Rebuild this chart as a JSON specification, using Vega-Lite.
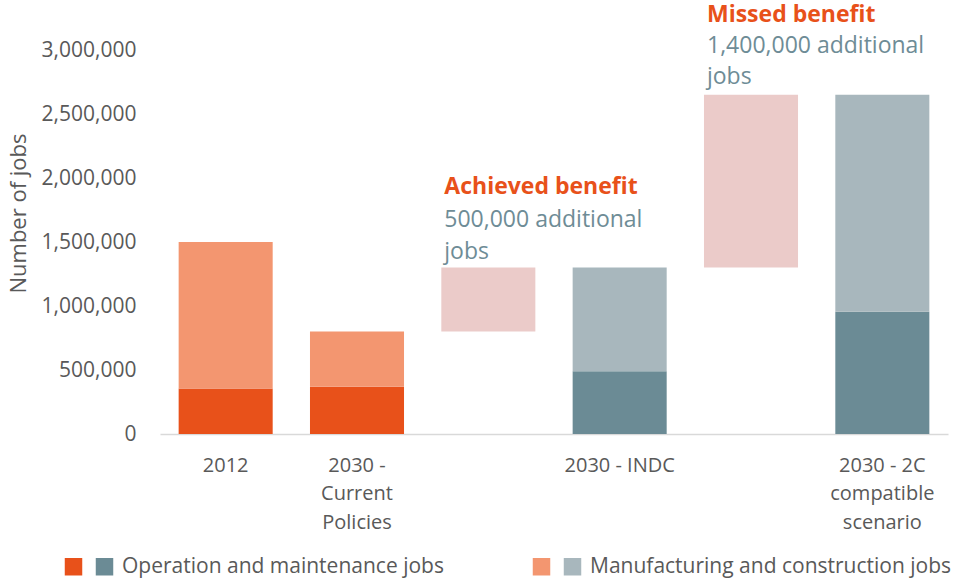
{
  "$schema": "https://vega.github.io/schema/vega-lite/v6.json",
  "width": 788,
  "height": 384,
  "autosize": {"type": "none"},
  "padding": {"left": 160, "top": 50, "right": 7, "bottom": 146},
  "config": {"font": "Open Sans", "view": {"stroke": null}},
  "datasets": {
    "bars": [
      {"cat": "2012", "type": "om", "key": "om_o", "lo": 0, "hi": 355000},
      {"cat": "2012", "type": "mc", "key": "mc_o", "lo": 355000, "hi": 1500000},
      {"cat": "2030 -|Current|Policies", "type": "om", "key": "om_o", "lo": 0, "hi": 370000},
      {"cat": "2030 -|Current|Policies", "type": "mc", "key": "mc_o", "lo": 370000, "hi": 800000},
      {"cat": " ", "type": "benefit", "key": "ach", "lo": 800000, "hi": 1300000},
      {"cat": "2030 - INDC", "type": "om", "key": "om_t", "lo": 0, "hi": 490000},
      {"cat": "2030 - INDC", "type": "mc", "key": "mc_t", "lo": 490000, "hi": 1300000},
      {"cat": "  ", "type": "benefit", "key": "miss", "lo": 1300000, "hi": 2650000},
      {"cat": "2030 - 2C|compatible|scenario", "type": "om", "key": "om_t", "lo": 0, "hi": 955000},
      {"cat": "2030 - 2C|compatible|scenario", "type": "mc", "key": "mc_t", "lo": 955000, "hi": 2650000}
    ],
    "notes": [
      {"cat": " ", "kind": "head", "y": 1875000, "txt": "Achieved benefit"},
      {"cat": " ", "kind": "body", "y": 1617000, "txt": "500,000 additional"},
      {"cat": " ", "kind": "body", "y": 1367000, "txt": "jobs"},
      {"cat": "  ", "kind": "head", "y": 3222000, "txt": "Missed benefit"},
      {"cat": "  ", "kind": "body", "y": 2975000, "txt": "1,400,000 additional"},
      {"cat": "  ", "kind": "body", "y": 2732000, "txt": "jobs"}
    ]
  },
  "layer": [
    {
      "data": {"name": "bars"},
      "transform": [{"filter": "datum.type == 'om'"}],
      "mark": {"type": "bar"},
      "encoding": {
        "x": {
          "field": "cat",
          "type": "nominal",
          "scale": {
            "domain": ["2012", "2030 -|Current|Policies", " ", "2030 - INDC", "  ", "2030 - 2C|compatible|scenario"],
            "paddingInner": 0.284,
            "paddingOuter": 0.142
          },
          "axis": {
            "title": null,
            "labelAngle": 0,
            "labelExpr": "split(datum.value, '|')",
            "labelFontSize": 20,
            "labelColor": "#595959",
            "labelPadding": 21,
            "labelLineHeight": 28.5,
            "labelBaseline": "top",
            "ticks": false,
            "tickSize": 0,
            "domainColor": "#D9D9D9",
            "domainWidth": 1.5,
            "grid": false
          }
        },
        "y": {
          "field": "lo",
          "type": "quantitative",
          "scale": {"domain": [0, 3000000], "nice": false},
          "axis": {
            "title": "Number of jobs",
            "titleFontSize": 22,
            "titleFontWeight": "normal",
            "titleColor": "#595959",
            "titlePadding": 11,
            "titleY": 163,
            "values": [0, 500000, 1000000, 1500000, 2000000, 2500000, 3000000],
            "format": ",d",
            "labelFontSize": 21,
            "labelColor": "#595959",
            "labelPadding": 24,
            "ticks": false,
            "tickSize": 0,
            "domain": false,
            "grid": false
          }
        },
        "y2": {"field": "hi"},
        "fill": {
          "field": "key",
          "type": "nominal",
          "scale": {"domain": ["om_o", "om_t"], "range": ["#E8511A", "#6B8B95"]},
          "legend": {
            "orient": "none",
            "legendX": -97,
            "legendY": 506,
            "direction": "horizontal",
            "columns": 2,
            "title": null,
            "symbolType": "square",
            "symbolSize": 306,
            "symbolStrokeWidth": 0,
            "symbolOpacity": 1,
            "labelFontSize": 21,
            "labelColor": "#595959",
            "labelOffset": 7,
            "columnPadding": 3,
            "labelLimit": 1000,
            "labelExpr": "datum.value == 'om_t' ? 'Operation and maintenance jobs' : ''"
          }
        }
      }
    },
    {
      "data": {"name": "bars"},
      "transform": [{"filter": "datum.type != 'om'"}],
      "mark": {"type": "bar"},
      "encoding": {
        "x": {"field": "cat", "type": "nominal"},
        "y": {"field": "lo", "type": "quantitative"},
        "y2": {"field": "hi"},
        "color": {
          "field": "key",
          "type": "nominal",
          "scale": {
            "domain": ["mc_o", "mc_t", "ach", "miss"],
            "range": ["#F39670", "#A8B7BD", "#EBCBC9", "#EBCBC9"]
          },
          "legend": {
            "orient": "none",
            "legendX": 371,
            "legendY": 506,
            "direction": "horizontal",
            "columns": 2,
            "title": null,
            "values": ["mc_o", "mc_t"],
            "symbolType": "square",
            "symbolSize": 306,
            "symbolStrokeWidth": 0,
            "symbolOpacity": 1,
            "labelFontSize": 21,
            "labelColor": "#595959",
            "labelOffset": 7,
            "columnPadding": 3,
            "labelLimit": 1000,
            "labelExpr": "datum.value == 'mc_t' ? 'Manufacturing and construction jobs' : ''"
          }
        }
      }
    },
    {
      "data": {"name": "notes"},
      "transform": [{"filter": "datum.kind == 'head'"}],
      "mark": {"type": "text", "align": "left", "baseline": "alphabetic", "dx": 3, "fontSize": 23, "fontWeight": "bold", "color": "#E8511A"},
      "encoding": {
        "x": {"field": "cat", "type": "nominal", "bandPosition": 0},
        "y": {"field": "y", "type": "quantitative"},
        "text": {"field": "txt"}
      }
    },
    {
      "data": {"name": "notes"},
      "transform": [{"filter": "datum.kind == 'body'"}],
      "mark": {"type": "text", "align": "left", "baseline": "alphabetic", "dx": 3, "fontSize": 23, "color": "#6E8C96"},
      "encoding": {
        "x": {"field": "cat", "type": "nominal", "bandPosition": 0},
        "y": {"field": "y", "type": "quantitative"},
        "text": {"field": "txt"}
      }
    }
  ]
}
